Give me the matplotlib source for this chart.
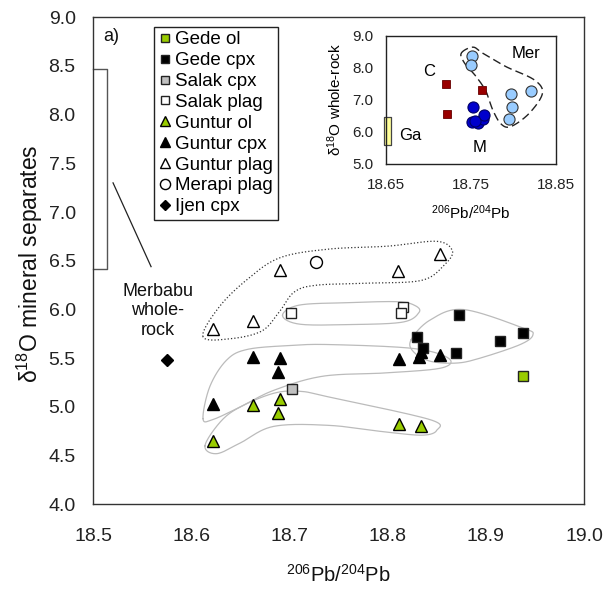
import numpy as np
import matplotlib
matplotlib.use("Agg")
import matplotlib.pyplot as plt

plt.rcParams['font.family'] = ['Liberation Sans', 'DejaVu Sans']
plt.rcParams['mathtext.default'] = 'regular'

# ---------------- data (main panel) ----------------
gede_ol_x = [18.938]
gede_ol_y = [5.32]
gede_cpx_x = [18.873, 18.830, 18.836, 18.870, 18.914, 18.938]
gede_cpx_y = [5.944, 5.715, 5.60, 5.55, 5.68, 5.756]
salak_cpx_x = [18.703]
salak_cpx_y = [5.181]
salak_plag_x = [18.702, 18.816, 18.814]
salak_plag_y = [5.967, 6.029, 5.96]
guntur_ol_x = [18.622, 18.663, 18.690, 18.688, 18.812, 18.834]
guntur_ol_y = [4.653, 5.019, 5.078, 4.94, 4.824, 4.807]
guntur_cpx_x = [18.622, 18.663, 18.690, 18.688, 18.812, 18.834, 18.832, 18.853]
guntur_cpx_y = [5.027, 5.515, 5.499, 5.355, 5.489, 5.56, 5.51, 5.53]
guntur_plag_x = [18.622, 18.663, 18.690, 18.811, 18.853]
guntur_plag_y = [5.797, 5.885, 6.41, 6.40, 6.57]
merapi_plag_x = [18.727]
merapi_plag_y = [6.49]
ijen_cpx_x = [18.575]
ijen_cpx_y = [5.48]
merbabu_range = [6.42, 8.47]

# ---------------- data (inset) ----------------
c_x = [18.7208, 18.7216, 18.7628]
c_y = [7.49, 6.56, 7.31]
mer_x = [18.7508, 18.750, 18.7967, 18.798, 18.7947, 18.8197]
mer_y = [8.38, 8.08, 7.19, 6.79, 6.40, 7.29]
m_x = [18.7527, 18.7504, 18.7578, 18.7636, 18.7656, 18.7550]
m_y = [6.79, 6.31, 6.27, 6.40, 6.52, 6.35]
ga_x = [18.6477, 18.6562]
ga_y = [5.59, 6.48]

# enclosure outlines (annotation shapes, data coords)
dotted_env = [(18.612, 5.72), (18.628, 6.02), (18.656, 6.30), (18.69, 6.53), (18.74, 6.62),
              (18.80, 6.65), (18.85, 6.70), (18.866, 6.60), (18.858, 6.46), (18.835, 6.30),
              (18.78, 6.27), (18.728, 6.25), (18.705, 6.18), (18.69, 5.98), (18.672, 5.78),
              (18.64, 5.70)]
salak_env = [(18.693, 5.94), (18.71, 6.045), (18.76, 6.07), (18.81, 6.08), (18.828, 6.04),
             (18.832, 5.97), (18.815, 5.87), (18.76, 5.845), (18.71, 5.85)]
gede_env = [(18.824, 5.69), (18.843, 5.89), (18.877, 6.0), (18.938, 5.81), (18.948, 5.74),
            (18.935, 5.64), (18.894, 5.50), (18.870, 5.45), (18.843, 5.47), (18.826, 5.57)]
gcpx_env = [(18.612, 4.88), (18.619, 5.21), (18.636, 5.48), (18.657, 5.59), (18.70, 5.63),
            (18.741, 5.64), (18.826, 5.60), (18.862, 5.50), (18.855, 5.40), (18.80, 5.35),
            (18.734, 5.315), (18.684, 5.17), (18.650, 5.0), (18.622, 4.87)]
gol_env = [(18.614, 4.60), (18.630, 4.85), (18.650, 5.0), (18.684, 5.14), (18.711, 5.16),
           (18.741, 5.10), (18.843, 4.87), (18.850, 4.76), (18.836, 4.71), (18.80, 4.74),
           (18.741, 4.81), (18.684, 4.80), (18.650, 4.63), (18.626, 4.52)]
mer_env = [(18.7383, 8.46), (18.7519, 8.65), (18.7636, 8.46), (18.7909, 8.04), (18.8239, 7.63),
           (18.8337, 7.21), (18.8181, 6.58), (18.7967, 6.17), (18.785, 6.25), (18.7753, 6.69),
           (18.7675, 7.26), (18.7558, 7.73), (18.7422, 8.15)]


def smooth_closed(pts, xscale, n=24):
    P = np.array(pts, dtype=float)
    P[:, 0] *= xscale
    N = len(P)
    out = []
    t = np.linspace(0, 1, n, endpoint=False)[:, None]
    for i in range(N):
        p0, p1, p2, p3 = P[(i - 1) % N], P[i], P[(i + 1) % N], P[(i + 2) % N]
        out.append(0.5 * ((2 * p1) + (-p0 + p2) * t + (2 * p0 - 5 * p1 + 4 * p2 - p3) * t ** 2
                          + (-p0 + 3 * p1 - 3 * p2 + p3) * t ** 3))
    out = np.vstack(out)
    out = np.vstack([out, out[:1]])
    out[:, 0] /= xscale
    return out[:, 0], out[:, 1]


GREEN = '#99cc00'
fig = plt.figure(figsize=(6.08, 5.94), dpi=100)
ax = fig.add_axes([0.153, 0.151, 0.8075, 0.8199])
ax.set_xlim(18.5, 19.0)
ax.set_ylim(4.0, 9.0)
ax.set_xticks(np.arange(18.5, 19.01, 0.1))
ax.set_yticks(np.arange(4.0, 9.01, 0.5))
ax.set_xticklabels([f'{v:.1f}' for v in np.arange(18.5, 19.01, 0.1)])
ax.set_yticklabels([f'{v:.1f}' for v in np.arange(4.0, 9.01, 0.5)])
ax.tick_params(length=0, labelsize=14, colors='#222222')
ax.tick_params(axis='x', pad=17)
ax.tick_params(axis='y', pad=12.5)
for s in ax.spines.values():
    s.set_color('#333333')
    s.set_linewidth(1.0)

# enclosures
for env, ls, col in [(dotted_env, ':', '#333333'), (salak_env, '-', '#bbbbbb'),
                     (gede_env, '-', '#bbbbbb'), (gcpx_env, '-', '#bbbbbb'),
                     (gol_env, '-', '#bbbbbb')]:
    ex, ey = smooth_closed(env, 10)
    ax.plot(ex, ey, ls=ls, color=col, lw=0.9, zorder=1)

ms_sq, ms_tri = 7.2, 8.8
ax.plot(gede_ol_x, gede_ol_y, 's', ms=ms_sq, mfc=GREEN, mec='#222222', mew=1, label='Gede ol', zorder=3)
ax.plot(gede_cpx_x, gede_cpx_y, 's', ms=ms_sq, mfc='black', mec='#222222', mew=1, label='Gede cpx', zorder=3)
ax.plot(salak_cpx_x, salak_cpx_y, 's', ms=ms_sq, mfc='#c0c0c0', mec='#222222', mew=1, label='Salak cpx', zorder=3)
ax.plot(salak_plag_x, salak_plag_y, 's', ms=ms_sq, mfc='white', mec='#222222', mew=1, label='Salak plag', zorder=3)
ax.plot(guntur_ol_x, guntur_ol_y, '^', ms=ms_tri, mfc=GREEN, mec='black', mew=1, label='Guntur ol', zorder=3)
ax.plot(guntur_cpx_x, guntur_cpx_y, '^', ms=ms_tri, mfc='black', mec='black', mew=1, label='Guntur cpx', zorder=3)
ax.plot(guntur_plag_x, guntur_plag_y, '^', ms=ms_tri, mfc='white', mec='black', mew=1, label='Guntur plag', zorder=3)
ax.plot(merapi_plag_x, merapi_plag_y, 'o', ms=8.6, mfc='white', mec='black', mew=1, label='Merapi plag', zorder=3)
ax.plot(ijen_cpx_x, ijen_cpx_y, 'D', ms=6.2, mfc='black', mec='black', mew=1, label='Ijen cpx', zorder=3)

leg = ax.legend(loc='upper left', bbox_to_anchor=(0.124, 0.981), fontsize=13.5, frameon=True,
                fancybox=False, edgecolor='#222222', framealpha=1, borderpad=0.25,
                labelspacing=0.2, handlelength=0.65, handletextpad=0.25, borderaxespad=0,
                markerscale=0.85)
leg.get_frame().set_linewidth(1.0)

# Merbabu whole-rock bracket
bx = [18.5, 18.5139, 18.5139, 18.5]
by = [merbabu_range[1], merbabu_range[1], merbabu_range[0], merbabu_range[0]]
ax.plot(bx, by, color='#555555', lw=1.0, clip_on=False, zorder=2)
ax.plot([18.5204, 18.5591], [7.30, 6.44], color='#222222', lw=0.9)
ax.text(18.566, 5.985, 'Merbabu\nwhole-\nrock', ha='center', va='center', fontsize=13,
        linespacing=1.2, color='#111111')
ax.text(18.519, 8.80, 'a)', ha='center', va='center', fontsize=13, color='#111111')

ax.set_xlabel('$^{206}$Pb/$^{204}$Pb', fontsize=14.5, labelpad=14, color='#111111')
ax.set_ylabel('δ$^{18}$O mineral separates', fontsize=16.5, color='#111111')
ax.yaxis.set_label_coords(-0.097, 0.495)

# ---------------- inset ----------------
ins = fig.add_axes([0.635, 0.724, 0.28, 0.2155])
ins.set_xlim(18.65, 18.85)
ins.set_ylim(5.0, 9.0)
ins.set_xticks([18.65, 18.75, 18.85])
ins.set_xticklabels(['18.65', '18.75', '18.85'])
ins.set_yticks([5.0, 6.0, 7.0, 8.0, 9.0])
ins.set_yticklabels(['5.0', '6.0', '7.0', '8.0', '9.0'])
ins.tick_params(length=0, labelsize=11, colors='#222222')
ins.tick_params(axis='x', pad=10)
ins.tick_params(axis='y', pad=9)
for s in ins.spines.values():
    s.set_color('#222222')
    s.set_linewidth(1.0)
ins.set_xlabel('$^{206}$Pb/$^{204}$Pb', fontsize=11, labelpad=8)
ins.set_ylabel('δ$^{18}$O whole-rock', fontsize=11, labelpad=6)

ex, ey = smooth_closed(mer_env, 25)
ins.plot(ex, ey, ls=(0, (6, 3)), color='#222222', lw=1.0, zorder=1)
ins.fill_between(ga_x, ga_y[0], ga_y[1], facecolor='#ffff99', edgecolor='#444444', lw=0.9,
                 clip_on=False, zorder=2)
ins.plot(c_x, c_y, 's', ms=5.6, mfc='#990000', mec='#660000', mew=0.6, zorder=3)
ins.plot(mer_x, mer_y, 'o', ms=8.0, mfc='#99ccff', mec='#333333', mew=0.8, zorder=3)
ins.plot(m_x, m_y, 'o', ms=8.0, mfc='#0000cc', mec='#000066', mew=0.8, zorder=4)
ins.text(18.701, 7.90, 'C', fontsize=12, ha='center', va='center')
ins.text(18.814, 8.45, 'Mer', fontsize=12, ha='center', va='center')
ins.text(18.678, 5.9, 'Ga', fontsize=12, ha='center', va='center')
ins.text(18.760, 5.5, 'M', fontsize=12, ha='center', va='center')

fig.savefig('out.png', dpi=100)
